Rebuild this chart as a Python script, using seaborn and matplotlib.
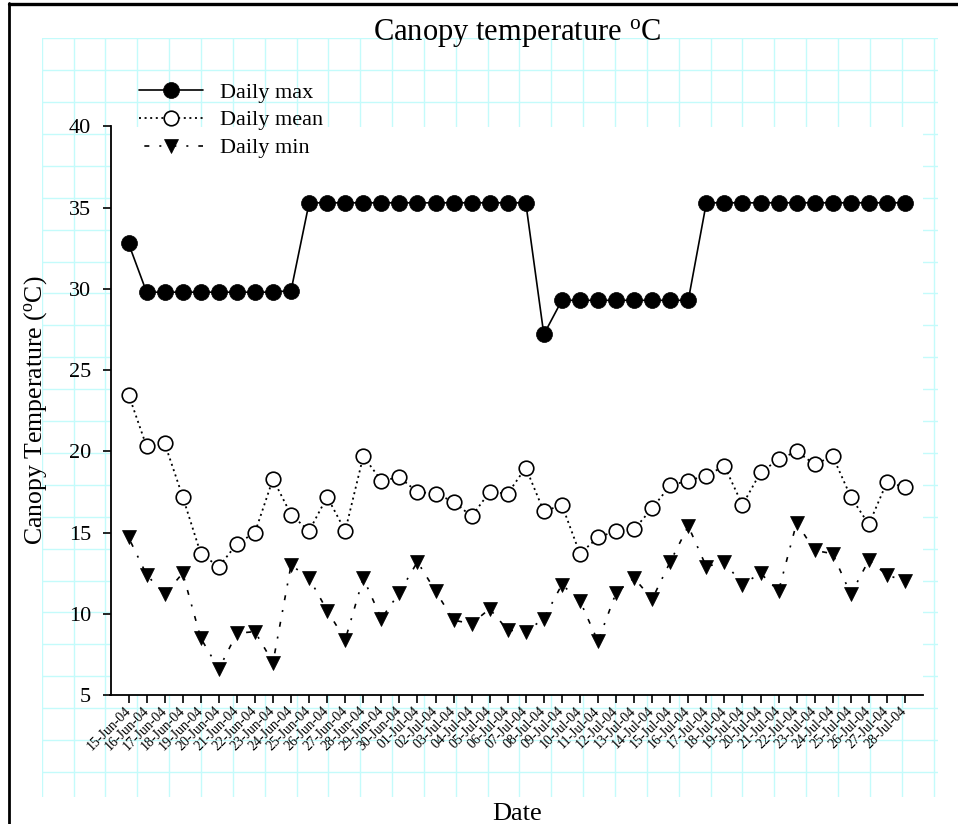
import numpy as np
import pandas as pd
import matplotlib
matplotlib.use("Agg")
import matplotlib.pyplot as plt
import seaborn as sns
from matplotlib.lines import Line2D

# ---------------- data ----------------
dates = ["15-Jun-04", "16-Jun-04", "17-Jun-04", "18-Jun-04", "19-Jun-04", "20-Jun-04",
         "21-Jun-04", "22-Jun-04", "23-Jun-04", "24-Jun-04", "25-Jun-04", "26-Jun-04",
         "27-Jun-04", "28-Jun-04", "29-Jun-04", "30-Jun-04", "01-Jul-04", "02-Jul-04",
         "03-Jul-04", "04-Jul-04", "05-Jul-04", "06-Jul-04", "07-Jul-04", "08-Jul-04",
         "09-Jul-04", "10-Jul-04", "11-Jul-04", "12-Jul-04", "13-Jul-04", "14-Jul-04",
         "15-Jul-04", "16-Jul-04", "17-Jul-04", "18-Jul-04", "19-Jul-04", "20-Jul-04",
         "21-Jul-04", "22-Jul-04", "23-Jul-04", "24-Jul-04", "25-Jul-04", "26-Jul-04",
         "27-Jul-04", "28-Jul-04"]

daily_max = [32.8, 29.8, 29.8, 29.8, 29.8, 29.8, 29.8, 29.8, 29.8, 29.9,
             35.3, 35.3, 35.3, 35.3, 35.3, 35.3, 35.3, 35.3, 35.3, 35.3,
             35.3, 35.3, 35.3, 27.2, 29.3, 29.3, 29.3, 29.3, 29.3, 29.3,
             29.3, 29.3, 35.3, 35.3, 35.3, 35.3, 35.3, 35.3, 35.3, 35.3,
             35.3, 35.3, 35.3, 35.3]

daily_mean = [23.5, 20.3, 20.5, 17.2, 13.7, 12.9, 14.3, 15.0, 18.3, 16.1,
              15.1, 17.2, 15.1, 19.7, 18.2, 18.4, 17.5, 17.4, 16.9, 16.0,
              17.5, 17.4, 19.0, 16.3, 16.7, 13.7, 14.7, 15.1, 15.2, 16.5,
              17.9, 18.2, 18.5, 19.1, 16.7, 18.7, 19.5, 20.0, 19.2, 19.7,
              17.2, 15.5, 18.1, 17.8]

daily_min = [14.7, 12.4, 11.2, 12.5, 8.5, 6.6, 8.8, 8.9, 7.0, 13.0,
             12.2, 10.2, 8.4, 12.2, 9.7, 11.3, 13.2, 11.4, 9.6, 9.4,
             10.3, 9.0, 8.9, 9.7, 11.8, 10.8, 8.3, 11.3, 12.2, 10.9,
             13.2, 15.4, 12.9, 13.2, 11.8, 12.5, 11.4, 15.6, 13.9, 13.7,
             11.2, 13.3, 12.4, 12.0]

y_ticks = [5, 10, 15, 20, 25, 30, 35, 40]

df = pd.DataFrame({"day": np.arange(len(dates)),
                   "max": daily_max, "mean": daily_mean, "min": daily_min})

# ---------------- style ----------------
sns.set_theme(style="white")
plt.rcParams["font.family"] = ["Liberation Serif", "DejaVu Serif"]
plt.rcParams["mathtext.fontset"] = "custom"
plt.rcParams["mathtext.rm"] = "Liberation Serif"
plt.rcParams["mathtext.it"] = "Liberation Serif:italic"
for k in ["text.color", "axes.labelcolor", "xtick.color", "ytick.color", "axes.edgecolor"]:
    plt.rcParams[k] = "black"

W, H = 958, 824
fig = plt.figure(figsize=(W / 100, H / 100), dpi=100)
fig.patch.set_facecolor("white")

def fx(px):
    return px / W

def fy(py):
    return 1 - py / H

# graph-paper background grid
gx0, gx1, gy0, gy1 = 41.7, 938.0, 38.3, 797.0
bg = fig.add_axes([fx(gx0), fy(gy1), fx(gx1) - fx(gx0), fy(gy0) - fy(gy1)], zorder=0)
bg.set_xlim(gx0, gx1)
bg.set_ylim(gy1, gy0)
bg.set_xticks(gx0 + 31.85 * np.arange(29))
bg.set_yticks(gy0 + 31.9 * np.arange(24))
bg.grid(True, color="#c4fbfb", linewidth=1.0)
bg.tick_params(length=0, labelbottom=False, labelleft=False)
for s in bg.spines.values():
    s.set_visible(False)
bg.set_facecolor("none")

# main axes
ax_l, ax_r, ax_t, ax_b = 110.5, 923.0, 126.5, 695.0
ax = fig.add_axes([fx(ax_l), fy(ax_b), fx(ax_r) - fx(ax_l), fy(ax_t) - fy(ax_b)], zorder=1)
ax.set_facecolor("white")

sns.lineplot(data=df, x="day", y="max", ax=ax, color="black", linewidth=1.2,
             marker="o", markersize=11.5, markerfacecolor="black",
             markeredgecolor="black", markeredgewidth=0.5, label="Daily max")
sns.lineplot(data=df, x="day", y="mean", ax=ax, color="black", linewidth=1.3,
             linestyle=(0, (1.1, 2.0)),
             marker="o", markersize=10.5, markerfacecolor="white",
             markeredgecolor="black", markeredgewidth=1.2, label="Daily mean")
sns.lineplot(data=df, x="day", y="min", ax=ax, color="black", linewidth=1.2,
             linestyle=(4, (1.2, 6, 3, 6)),
             marker="v", markersize=10.5, markerfacecolor="black",
             markeredgecolor="black", markeredgewidth=0.5, label="Daily min")

ax.set_xlim(-1, len(dates))
ax.set_ylim(5, 40)
ax.set_yticks(y_ticks)
ax.set_yticklabels([str(v) for v in y_ticks], fontsize=16)
ax.set_xticks(np.arange(len(dates)))
ax.set_xticklabels(dates, rotation=45, ha="right", va="center",
                   rotation_mode="anchor", fontsize=10)

for side in ["top", "right"]:
    ax.spines[side].set_visible(False)
for side in ["left", "bottom"]:
    ax.spines[side].set_color("black")
    ax.spines[side].set_linewidth(1.3)
ax.tick_params(axis="both", direction="out", length=6, width=1.2, color="black",
               left=True, bottom=True)
ax.tick_params(axis="y", pad=8)
ax.tick_params(axis="x", pad=4)

ax.set_title("Canopy temperature $\\mathregular{^o}$C", fontsize=22, pad=62)
ax.set_ylabel("Canopy Temperature ($\\mathregular{^o}$C)", fontsize=18.5, labelpad=14)
ax.set_xlabel("Date", fontsize=19, labelpad=36)

leg = ax.legend(loc="upper left", bbox_to_anchor=(fx(139), fy(82)),
                bbox_transform=fig.transFigure, frameon=False, fontsize=16,
                handlelength=2.9, handletextpad=0.75, labelspacing=0.33,
                borderpad=0, borderaxespad=0)

# frame lines of the original picture (top and left)
fig.add_artist(Line2D([fx(8.7), 1], [fy(4.3), fy(4.3)], color="black", linewidth=2.4))
fig.add_artist(Line2D([fx(8.7), fx(8.7)], [fy(3), 0], color="black", linewidth=2.0))

fig.savefig("out.png", dpi=100, facecolor="white")
